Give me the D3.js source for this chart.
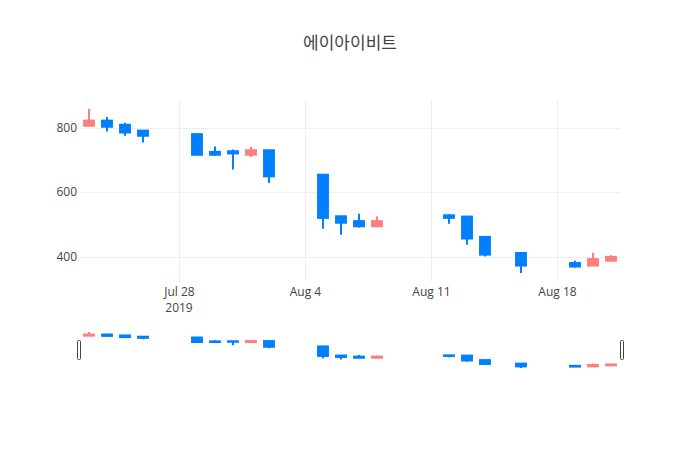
<!DOCTYPE html>
<html>
<head>
<meta charset="utf-8">
<script src="https://cdn.jsdelivr.net/npm/d3@7"></script>
<style>
  html, body { margin: 0; padding: 0; background: #fff; }
  svg { display: block; font-family: "Open Sans", "Noto Sans CJK KR", sans-serif; }
</style>
</head>
<body>
<svg id="chart" width="700" height="450"></svg>
<script>
const title = "에이아이비트";
const dates = ["2019-07-23","2019-07-24","2019-07-25","2019-07-26","2019-07-29","2019-07-30","2019-07-31","2019-08-01","2019-08-02","2019-08-05","2019-08-06","2019-08-07","2019-08-08","2019-08-12","2019-08-13","2019-08-14","2019-08-16","2019-08-19","2019-08-20","2019-08-21"];
const openVals  = [806, 822, 809, 791, 780, 725, 727, 716, 730, 654, 525, 510, 494, 528, 524, 461, 411, 380, 372, 387];
const highVals  = [858, 833, 815, 793, 781, 742, 732, 742, 731, 655, 526, 533, 525, 531, 527, 462, 412, 387, 412, 404];
const lowVals   = [805, 788, 775, 754, 715, 714, 670, 709, 628, 486, 468, 490, 494, 502, 437, 400, 349, 366, 372, 386];
const closeVals = [822, 803, 785, 775, 716, 716, 720, 730, 649, 520, 505, 494, 510, 520, 456, 406, 372, 369, 392, 399];
const yTickValues = [400, 600, 800];
const xTickDates = ["2019-07-28","2019-08-04","2019-08-11","2019-08-18"];
const xTickLabels = ["Jul 28","Aug 4","Aug 11","Aug 18"];
const yearLabel = "2019";

const incColor = "#FF7F7F", decColor = "#007FFF";
const parse = d3.utcParse("%Y-%m-%d");
const data = dates.map((d, i) => ({date: parse(d), o: openVals[i], h: highVals[i], l: lowVals[i], c: closeVals[i]}));

const W = 700, H = 450;
const L = 80, R = 620, T = 100, B = 282;
const sT = 330, sB = 370;

const svg = d3.select("#chart");
const halfDay = 12 * 3600 * 1000;
const x = d3.scaleUtc()
  .domain([new Date(+d3.min(data, d => d.date) - halfDay), new Date(+d3.max(data, d => d.date) + halfDay)])
  .range([L, R]);
const lo = d3.min(lowVals), hi = d3.max(highVals), pad = (hi - lo) * 0.055;
const y = d3.scaleLinear().domain([lo - pad, hi + pad]).range([B, T]);
const ys = d3.scaleLinear().domain([lo - pad, hi + pad]).range([sB, sT]);

// grid
const grid = svg.append("g");
grid.selectAll("line.h").data(yTickValues).join("line")
  .attr("x1", L).attr("x2", R)
  .attr("y1", d => Math.round(y(d)) + 0.5).attr("y2", d => Math.round(y(d)) + 0.5)
  .attr("stroke", "#eee").attr("stroke-width", 1);
grid.selectAll("line.v").data(xTickDates).join("line")
  .attr("x1", d => Math.round(x(parse(d))) + 0.5).attr("x2", d => Math.round(x(parse(d))) + 0.5)
  .attr("y1", T).attr("y2", B)
  .attr("stroke", "#eee").attr("stroke-width", 1);

// y axis
const yAxis = d3.axisLeft(y).tickValues(yTickValues).tickSize(0).tickPadding(3);
svg.append("g").attr("transform", `translate(${L},0)`).call(yAxis)
  .call(g => g.select(".domain").remove())
  .call(g => g.selectAll("text").attr("fill", "#444").attr("font-size", 12).attr("font-family", "'Open Sans', sans-serif"));

// x axis
const xAxis = d3.axisBottom(x).tickValues(xTickDates.map(parse))
  .tickFormat((d, i) => xTickLabels[i]).tickSize(0).tickPadding(5);
svg.append("g").attr("transform", `translate(0,${B})`).call(xAxis)
  .call(g => g.select(".domain").remove())
  .call(g => g.selectAll("text").attr("fill", "#444").attr("font-size", 12).attr("font-family", "'Open Sans', sans-serif"));
svg.append("text").attr("x", x(parse(xTickDates[0]))).attr("y", B + 30)
  .attr("text-anchor", "middle").attr("fill", "#444").attr("font-size", 12)
  .attr("font-family", "'Open Sans', sans-serif").text(yearLabel);

// title
svg.append("text").attr("x", W / 2).attr("y", 49).attr("text-anchor", "middle")
  .attr("fill", "#444").attr("font-size", 17).text(title);

const bodyW = (x(parse("2019-07-24")) - x(parse("2019-07-23"))) * 0.55;

function drawCandles(g, yy) {
  const cg = g.selectAll("g.c").data(data).join("g")
    .attr("stroke", d => d.c >= d.o ? incColor : decColor)
    .attr("fill", d => d.c >= d.o ? incColor : decColor)
    .attr("stroke-width", 2);
  cg.append("line")
    .attr("x1", d => x(d.date)).attr("x2", d => x(d.date))
    .attr("y1", d => yy(d.h)).attr("y2", d => yy(d.l));
  cg.append("rect")
    .attr("x", d => x(d.date) - bodyW / 2).attr("width", bodyW)
    .attr("y", d => yy(Math.max(d.o, d.c)))
    .attr("height", d => Math.max(0, Math.abs(yy(d.o) - yy(d.c))));
}

drawCandles(svg.append("g"), y);

// range slider
const slider = svg.append("g");
slider.append("rect").attr("x", L).attr("y", sT).attr("width", R - L).attr("height", sB - sT).attr("fill", "#fff");
drawCandles(slider.append("g"), ys);
const hh = Math.round((sB - sT) / 2), hy = sT + Math.round((sB - sT) / 4);
[L - 2.5, R + 0.5].forEach(hx => {
  slider.append("rect").attr("x", hx).attr("y", hy + 0.5).attr("width", 3).attr("height", hh - 1)
    .attr("rx", 1).attr("fill", "#fff").attr("stroke", "#444").attr("stroke-width", 1);
});
</script>
</body>
</html>
